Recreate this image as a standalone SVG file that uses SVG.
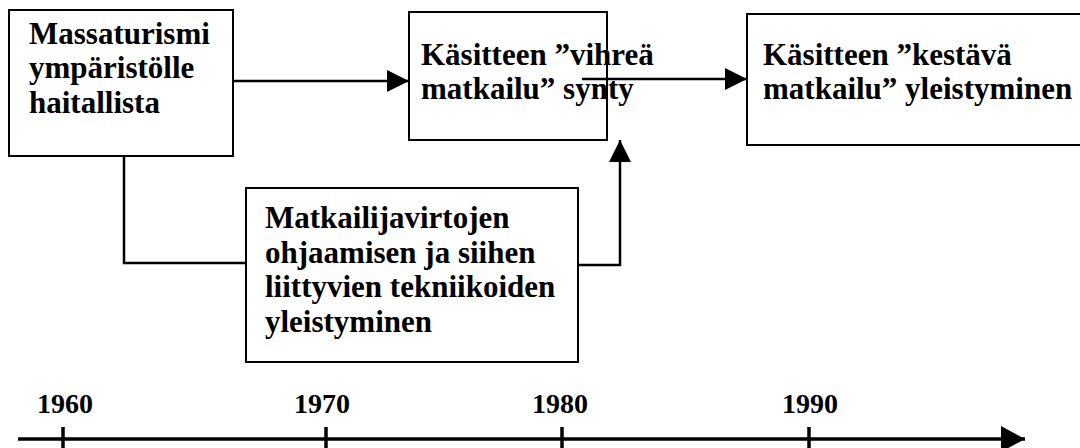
<svg xmlns="http://www.w3.org/2000/svg" width="1080" height="448" viewBox="0 0 1080 448">
<style>
.box{fill:#fff;stroke:#000;stroke-width:2}
.t{font-family:'Liberation Serif','DejaVu Serif',serif;font-weight:bold;font-size:31px;fill:#000}
.yr{font-family:'Liberation Serif','DejaVu Serif',serif;font-weight:bold;font-size:28px;fill:#000}
.c{fill:none;stroke:#000;stroke-width:2.5}
.axis{fill:none;stroke:#000;stroke-width:3.5}
</style>
<defs>
<marker id="ah" markerUnits="userSpaceOnUse" markerWidth="22" markerHeight="22" viewBox="0 0 22 22" refX="22" refY="11" orient="auto">
<path d="M0,0 L22,11 L0,22 Z" fill="#000"/>
</marker>
<marker id="ah2" markerUnits="userSpaceOnUse" markerWidth="24" markerHeight="26" viewBox="0 0 24 26" refX="24" refY="13" orient="auto">
<path d="M0,0 L24,13 L0,26 Z" fill="#000"/>
</marker>
</defs>
<rect width="1080" height="448" fill="#fff"/>
<g id="n1">
<rect class="box" x="9" y="10" width="224" height="146"/>
<text class="t" x="29" y="44">Massaturismi</text>
<text class="t" x="29" y="78">ympäristölle</text>
<text class="t" x="29" y="113">haitallista</text>
</g>
<g id="n2">
<rect class="box" x="409" y="12" width="198" height="128"/>
<text class="t" x="421" y="65">Käsitteen ”vihreä</text>
<text class="t" x="421" y="99">matkailu” synty</text>
</g>
<g id="n3">
<rect class="box" x="747" y="14" width="345" height="131"/>
<text class="t" x="763" y="65">Käsitteen ”kestävä</text>
<text class="t" x="763" y="99">matkailu” yleistyminen</text>
</g>
<g id="n4">
<rect class="box" x="246" y="188" width="332" height="174"/>
<text class="t" x="265" y="228">Matkailijavirtojen</text>
<text class="t" x="265" y="263">ohjaamisen ja siihen</text>
<text class="t" x="265" y="297">liittyvien tekniikoiden</text>
<text class="t" x="265" y="332">yleistyminen</text>
</g>
<g id="connectors">
<line class="c" x1="233" y1="81" x2="409" y2="81" marker-end="url(#ah)"/>
<line class="c" x1="582" y1="79" x2="747" y2="79" marker-end="url(#ah)"/>
<polyline class="c" points="124,156 124,263 246,263"/>
<polyline class="c" points="578,265 620,265 620,140" marker-end="url(#ah)"/>
</g>
<g id="timeline">
<line class="axis" x1="18" y1="439" x2="1025" y2="439" marker-end="url(#ah2)"/>
<line class="axis" x1="63" y1="427" x2="63" y2="450"/>
<line class="axis" x1="326" y1="427" x2="326" y2="450"/>
<line class="axis" x1="562" y1="427" x2="562" y2="450"/>
<line class="axis" x1="809" y1="427" x2="809" y2="450"/>
<text class="yr" x="37" y="413">1960</text>
<text class="yr" x="294" y="413">1970</text>
<text class="yr" x="532" y="413">1980</text>
<text class="yr" x="782" y="413">1990</text>
</g>
</svg>
